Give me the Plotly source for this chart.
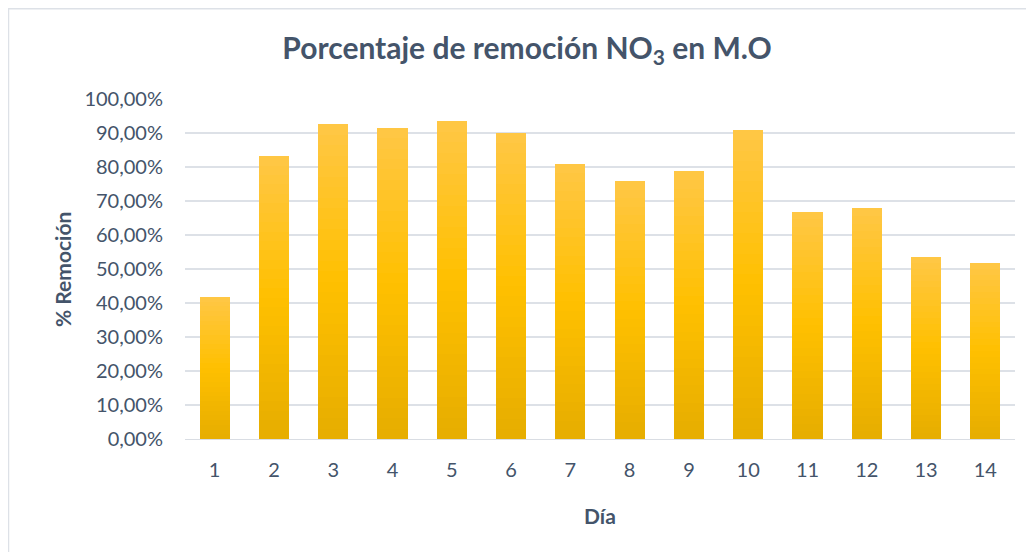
import plotly.graph_objects as go

dias = [str(i) for i in range(1, 15)]
remocion = [0.418, 0.832, 0.926, 0.915, 0.935, 0.900, 0.809, 0.759, 0.788, 0.909, 0.668, 0.679, 0.535, 0.518]

title_text = "<b>Porcentaje de remoción NO<sub>3</sub> en M.O</b>"
x_title = "<b>Día</b>"
y_title = "<b>% Remoción</b>"

# gradient stops (bottom -> top) to mimic the Excel gradient fill
stops = [(0.0, (230, 173, 0)), (0.5, (255, 192, 0)), (1.0, (255, 199, 70))]

def grad_color(t):
    for (t0, c0), (t1, c1) in zip(stops[:-1], stops[1:]):
        if t0 <= t <= t1:
            f = (t - t0) / (t1 - t0)
            c = [round(a + (b - a) * f) for a, b in zip(c0, c1)]
            return f"rgb({c[0]},{c[1]},{c[2]})"
    return "rgb(255,192,0)"

N = 30
fig = go.Figure()
for k in range(N):
    fig.add_trace(go.Bar(
        x=dias,
        y=[v / N for v in remocion],
        marker=dict(color=grad_color((k + 0.5) / N), line=dict(width=0)),
        showlegend=False,
        hoverinfo="skip",
    ))

font_fam = "Lato, 'Open Sans', sans-serif"
txt_col = "#44546A"

# page offset of 8px (default body margin) is compensated in the geometry
OFF = 8
W, H = 1034 - OFF, 552 - OFF
L, T, R = 185 - OFF, 99 - OFF, 19
PW, PH = 1015 - 185, 340
B = H - T - PH

def px_to_paper_x(px):
    return (px - 185) / PW

def px_to_paper_y(py):
    return (439 - py) / PH

fig.update_layout(
    barmode="stack",
    bargap=0.49,
    width=W, height=H,
    autosize=False,
    margin=dict(l=L, r=R, t=T, b=B, autoexpand=False),
    paper_bgcolor="white",
    plot_bgcolor="white",
    separators=",.",
    font=dict(family=font_fam, color=txt_col),
    title=dict(text=title_text, x=(527 - OFF) / W, xanchor="center", xref="container",
               y=1 - (48 - OFF) / H, yanchor="middle",
               font=dict(size=30, color=txt_col, family=font_fam)),
    xaxis=dict(
        tickfont=dict(size=20, color=txt_col),
        showgrid=False,
        showline=True, linecolor="#D9DDE3", linewidth=1,
        ticks="", ticklabelstandoff=13,
    ),
    yaxis=dict(
        range=[0, 1.0],
        dtick=0.1,
        tickformat=".2%",
        tickfont=dict(size=20, color=txt_col),
        showgrid=True, gridcolor="#DDE1E7", gridwidth=1.5,
        zeroline=False,
        ticks="", ticklabelstandoff=21,
    ),
    annotations=[
        dict(text=x_title, xref="paper", yref="paper",
             x=0.5, y=px_to_paper_y(515), xanchor="center", yanchor="middle",
             showarrow=False, font=dict(size=21, color=txt_col)),
        dict(text=y_title, xref="paper", yref="paper",
             x=px_to_paper_x(62), y=px_to_paper_y(270), xanchor="center", yanchor="middle",
             textangle=-90, showarrow=False, font=dict(size=21, color=txt_col)),
    ],
    shapes=[dict(type="rect", xref="paper", yref="paper",
                 x0=px_to_paper_x(8.5), x1=px_to_paper_x(1045),
                 y0=px_to_paper_y(560), y1=px_to_paper_y(8.8),
                 line=dict(color="#DDE1E7", width=1.5), fillcolor="rgba(0,0,0,0)",
                 layer="below")],
)

fig.write_html("out.html")
